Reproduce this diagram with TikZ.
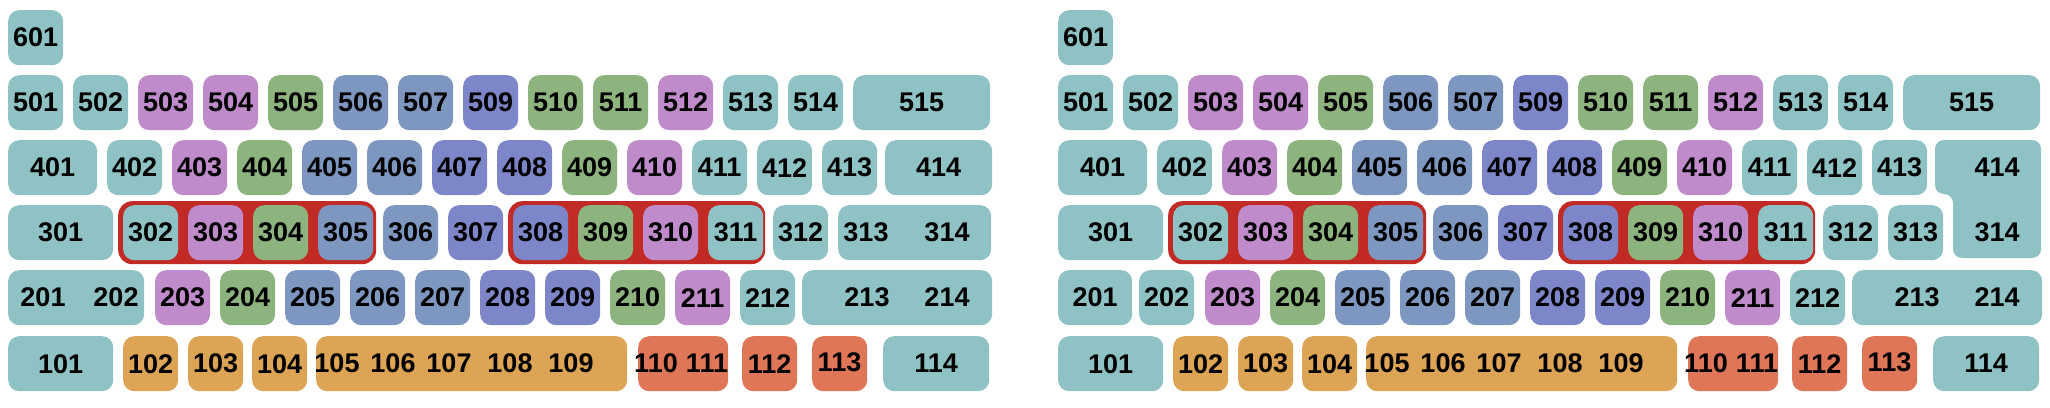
\documentclass[tikz,border=0pt]{standalone}
\usepackage{fontspec}
\setmainfont{Liberation Sans}
\definecolor{kteal}{HTML}{8FC2C4}
\definecolor{kpurple}{HTML}{BF8BCB}
\definecolor{kgreen}{HTML}{8DB37E}
\definecolor{kslate}{HTML}{7E97C0}
\definecolor{kviolet}{HTML}{7D86C9}
\definecolor{korange}{HTML}{DEA456}
\definecolor{kred}{HTML}{DF7658}
\definecolor{kbox}{HTML}{C22A25}
\tikzset{
  keyfont/.style={font=\bfseries\fontsize{27}{27}\selectfont, text=black},
  keybox/.style={rectangle, rounded corners=11pt, inner sep=0pt, minimum height=55pt, keyfont},
  lbl/.style={inner sep=0pt, keyfont},
  groupbox/.style={rectangle, rounded corners=14pt, inner sep=0pt, fill=kbox, minimum height=63pt}
}
% name, x, y, width, colour, text
\newcommand\kb[6]{\node[keybox,fill=#5,minimum width=#4pt,anchor=north west] (#1) at (#2,#3) {#6};}
\newcommand\board[1]{%
  % row 6
  \kb{#1k601}{8}{10}{55}{kteal}{601}
  % row 5
  \kb{#1k501}{8}{75}{55}{kteal}{501}
  \kb{#1k502}{73}{75}{55}{kteal}{502}
  \kb{#1k503}{138}{75}{55}{kpurple}{503}
  \kb{#1k504}{203}{75}{55}{kpurple}{504}
  \kb{#1k505}{268}{75}{55}{kgreen}{505}
  \kb{#1k506}{333}{75}{55}{kslate}{506}
  \kb{#1k507}{398}{75}{55}{kslate}{507}
  \kb{#1k509}{463}{75}{55}{kviolet}{509}
  \kb{#1k510}{528}{75}{55}{kgreen}{510}
  \kb{#1k511}{593}{75}{55}{kgreen}{511}
  \kb{#1k512}{658}{75}{55}{kpurple}{512}
  \kb{#1k513}{723}{75}{55}{kteal}{513}
  \kb{#1k514}{788}{75}{55}{kteal}{514}
  \kb{#1k515}{853}{75}{137}{kteal}{515}
  % row 4
  \kb{#1k401}{8}{140}{89}{kteal}{401}
  \kb{#1k402}{107}{140}{55}{kteal}{402}
  \kb{#1k403}{172}{140}{55}{kpurple}{403}
  \kb{#1k404}{237}{140}{55}{kgreen}{404}
  \kb{#1k405}{302}{140}{55}{kslate}{405}
  \kb{#1k406}{367}{140}{55}{kslate}{406}
  \kb{#1k407}{432}{140}{55}{kviolet}{407}
  \kb{#1k408}{497}{140}{55}{kviolet}{408}
  \kb{#1k409}{562}{140}{55}{kgreen}{409}
  \kb{#1k410}{627}{140}{55}{kpurple}{410}
  \kb{#1k411}{692}{140}{55}{kteal}{411}
  \kb{#1k412}{757}{140}{55}{kteal}{412}
  \kb{#1k413}{822}{140}{55}{kteal}{413}
  % row 3
  \kb{#1k301}{8}{205}{105}{kteal}{301}
  \node[groupbox,minimum width=258pt,anchor=north west] (#1g1) at (118,201) {};
  \node[groupbox,minimum width=257pt,anchor=north west] (#1g2) at (508,201) {};
  \kb{#1k302}{123}{205}{55}{kteal}{302}
  \kb{#1k303}{188}{205}{55}{kpurple}{303}
  \kb{#1k304}{253}{205}{55}{kgreen}{304}
  \kb{#1k305}{318}{205}{55}{kslate}{305}
  \kb{#1k306}{383}{205}{55}{kslate}{306}
  \kb{#1k307}{448}{205}{55}{kviolet}{307}
  \kb{#1k308}{513}{205}{55}{kviolet}{308}
  \kb{#1k309}{578}{205}{55}{kgreen}{309}
  \kb{#1k310}{643}{205}{55}{kpurple}{310}
  \kb{#1k311}{708}{205}{55}{kteal}{311}
  \kb{#1k312}{773}{205}{55}{kteal}{312}
  % row 2
  \kb{#1k203}{155}{270}{55}{kpurple}{203}
  \kb{#1k204}{220}{270}{55}{kgreen}{204}
  \kb{#1k205}{285}{270}{55}{kslate}{205}
  \kb{#1k206}{350}{270}{55}{kslate}{206}
  \kb{#1k207}{415}{270}{55}{kslate}{207}
  \kb{#1k208}{480}{270}{55}{kviolet}{208}
  \kb{#1k209}{545}{270}{55}{kviolet}{209}
  \kb{#1k210}{610}{270}{55}{kgreen}{210}
  \kb{#1k211}{675}{270}{55}{kpurple}{211}
  \kb{#1k212}{740}{270}{55}{kteal}{212}
  \kb{#1k213}{802}{270}{190}{kteal}{}
  \node[lbl] (#1t213) at (867,297.5) {213};
  \node[lbl] (#1t214) at (947,297.5) {214};
  % row 1
  \kb{#1k101}{8}{336}{105}{kteal}{101}
  \kb{#1k102}{123}{336}{55}{korange}{102}
  \kb{#1k103}{188}{336}{55}{korange}{103}
  \kb{#1k104}{252}{336}{55}{korange}{104}
  \kb{#1k105}{316}{336}{311}{korange}{}
  \node[lbl] (#1t105) at (337,363.5) {105};
  \node[lbl] (#1t106) at (393,363.5) {106};
  \node[lbl] (#1t107) at (449,363.5) {107};
  \node[lbl] (#1t108) at (510,363.5) {108};
  \node[lbl] (#1t109) at (571,363.5) {109};
  \kb{#1k110}{638}{336}{90}{kred}{}
  \node[lbl] (#1t110) at (656,363.5) {110};
  \node[lbl] (#1t111) at (707,363.5) {111};
  \kb{#1k112}{742}{336}{55}{kred}{112}
  \node[keybox,fill=kred,minimum width=55pt,anchor=north west] (#1k113) at (812,336) {};
  \node[lbl] (#1t113) at (839.5,362) {113};
  \kb{#1k114}{883}{336}{106}{kteal}{114}
}
\begin{document}
\begin{tikzpicture}[x=1pt,y=-1pt]
\useasboundingbox (0,0) rectangle (2050,407);
% left keyboard
\board{L}
\kb{Lk414}{885}{140}{107}{kteal}{414}
\kb{Lk201}{8}{270}{136}{kteal}{}
\node[lbl] (Lt201) at (43,297.5) {201};
\node[lbl] (Lt202) at (116,297.5) {202};
\kb{Lk313}{838}{205}{153}{kteal}{}
\node[lbl] (Lt313) at (866,232.5) {313};
\node[lbl] (Lt314) at (947,232.5) {314};
% right keyboard
\begin{scope}[xshift=1050pt]
\board{R}
\kb{Rk201}{8}{270}{74}{kteal}{201}
\kb{Rk202}{89}{270}{55}{kteal}{202}
\kb{Rk313}{838}{205}{55}{kteal}{313}
\fill[kteal, rounded corners=9pt] (885,140) -- (991,140) -- (991,258) -- (903,258) -- (903,194) -- (885,194) -- cycle;
\node[lbl] (Rt414) at (947,167) {414};
\node[lbl] (Rt314) at (947,232.5) {314};
\end{scope}
\end{tikzpicture}
\end{document}
